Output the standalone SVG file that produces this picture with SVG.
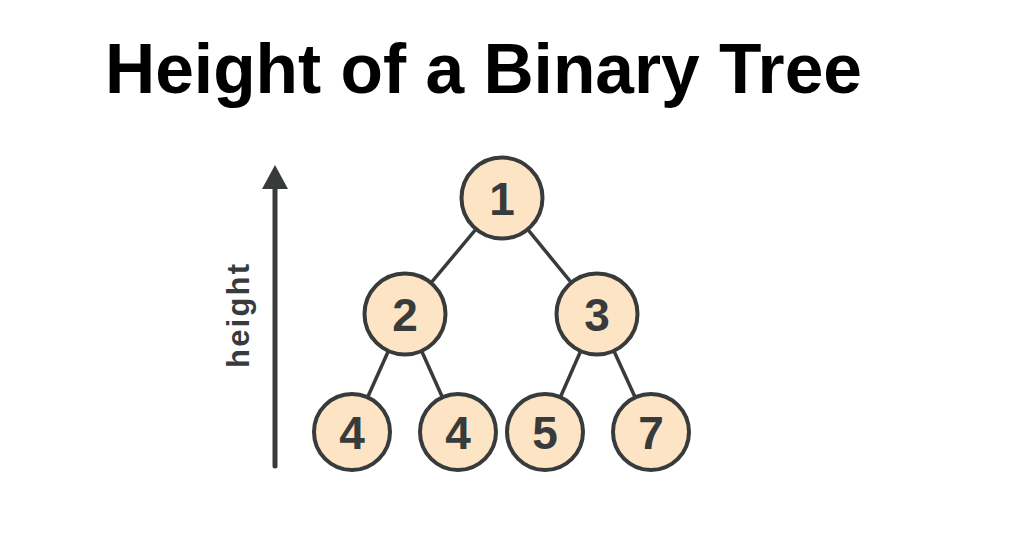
<svg xmlns="http://www.w3.org/2000/svg" width="1024" height="535" viewBox="0 0 1024 535">
<style>
.title{font-family:"Liberation Sans",Arial,sans-serif;font-weight:bold;font-size:69.5px;fill:#000}
.node circle{fill:#fde4c4;stroke:#383b3b;stroke-width:4}
.node text{font-family:"Liberation Sans",Arial,sans-serif;font-weight:bold;font-size:46px;fill:#383b3b;text-anchor:middle}
.edge{stroke:#383b3b;stroke-width:3.5;fill:none}
.axis{stroke:#383b3b;stroke-width:5;stroke-linecap:round;fill:none}
.lbl{font-family:"Liberation Sans",Arial,sans-serif;font-weight:bold;font-size:31px;fill:#383b3b;text-anchor:middle}
</style>
<rect width="1024" height="535" fill="#ffffff"/>
<text class="title" x="105" y="93">Height of a Binary Tree</text>
<g id="height-axis">
<line class="axis" x1="275" y1="186" x2="275" y2="466"/>
<polygon points="275,165 262,189 288,189" fill="#383b3b"/>
<text class="lbl" transform="translate(249,316) rotate(-90)" textLength="104" lengthAdjust="spacing">height</text>
</g>
<g id="connectors">
<line class="edge" x1="502" y1="198" x2="405" y2="314"/>
<line class="edge" x1="502" y1="198" x2="597" y2="314"/>
<line class="edge" x1="405" y1="314" x2="352" y2="432"/>
<line class="edge" x1="405" y1="314" x2="458" y2="432"/>
<line class="edge" x1="597" y1="314" x2="545" y2="432"/>
<line class="edge" x1="597" y1="314" x2="651" y2="432"/>
</g>
<g id="node-1" class="node"><circle cx="502" cy="198" r="40.5"/><text x="502" y="215">1</text></g>
<g id="node-2" class="node"><circle cx="405" cy="314" r="40.5"/><text x="405" y="331">2</text></g>
<g id="node-3" class="node"><circle cx="597" cy="314" r="40.5"/><text x="597" y="331">3</text></g>
<g id="node-4a" class="node"><circle cx="352" cy="432" r="38"/><text x="352" y="449">4</text></g>
<g id="node-4b" class="node"><circle cx="458" cy="432" r="38"/><text x="458" y="449">4</text></g>
<g id="node-5" class="node"><circle cx="545" cy="432" r="38"/><text x="545" y="449">5</text></g>
<g id="node-7" class="node"><circle cx="651" cy="432" r="38"/><text x="651" y="449">7</text></g>
</svg>
